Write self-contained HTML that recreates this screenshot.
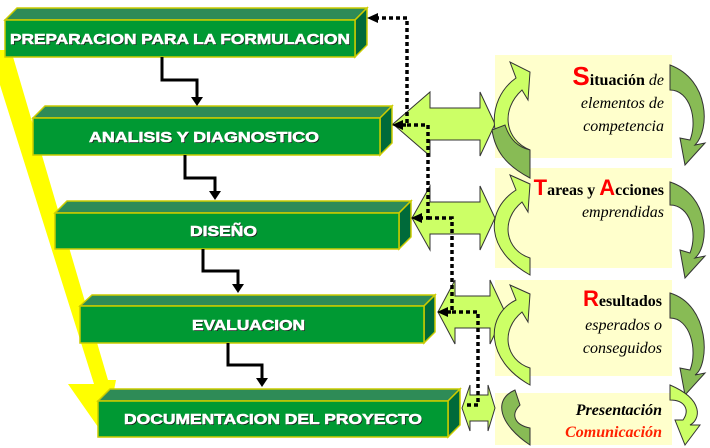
<!DOCTYPE html>
<html><head><meta charset="utf-8"><style>body{margin:0;background:#fff}svg{display:block}</style></head><body>
<svg width="710" height="448" viewBox="0 0 710 448" xmlns="http://www.w3.org/2000/svg">
<rect width="710" height="448" fill="#fff"/>
<rect x="495" y="55" width="177" height="103" fill="#ffffcc"/>
<rect x="495" y="168" width="177" height="100" fill="#ffffcc"/>
<rect x="495" y="280" width="177" height="96" fill="#ffffcc"/>
<rect x="495" y="393" width="177" height="52" fill="#ffffcc"/>
<polygon points="0,50 11,50 108,380 116,380 105,437 68,384 94,384 0,85" fill="#ffff00"/>
<g stroke="#cccc00" stroke-width="1.5">
<polygon points="5,20 17,8 367,8 355,20" fill="#2e8b57"/><polygon points="355,20 367,8 367,45 355,57" fill="#006a3a"/><rect x="5" y="20" width="350" height="37" fill="#009933"/>
<polygon points="33,118 45,106 392,106 380,118" fill="#2e8b57"/><polygon points="380,118 392,106 392,143 380,155" fill="#006a3a"/><rect x="33" y="118" width="347" height="37" fill="#009933"/>
<polygon points="55,213 67,201 411,201 399,213" fill="#2e8b57"/><polygon points="399,213 411,201 411,237 399,249" fill="#006a3a"/><rect x="55" y="213" width="344" height="36" fill="#009933"/>
<polygon points="80,306 92,295 435,295 424,306" fill="#2e8b57"/><polygon points="424,306 435,295 435,332 424,343" fill="#006a3a"/><rect x="80" y="306" width="344" height="37" fill="#009933"/>
<polygon points="98,401 110,389 460,389 448,401" fill="#2e8b57"/><polygon points="448,401 460,389 460,425 448,437" fill="#006a3a"/><rect x="98" y="401" width="350" height="36" fill="#009933"/>
</g>
<g font-family="Liberation Sans, Arial, sans-serif" font-weight="bold" font-size="15" fill="#1a1a1a" transform="translate(1,1)">
<text x="10" y="44" textLength="340" lengthAdjust="spacingAndGlyphs" font-weight="bold">PREPARACION PARA LA FORMULACION</text>
<text x="89" y="142" textLength="230" lengthAdjust="spacingAndGlyphs" font-weight="bold">ANALISIS Y DIAGNOSTICO</text>
<text x="190" y="236" textLength="67" lengthAdjust="spacingAndGlyphs" font-weight="bold">DISEÑO</text>
<text x="192" y="330" textLength="113" lengthAdjust="spacingAndGlyphs" font-weight="bold">EVALUACION</text>
<text x="124" y="424" textLength="298" lengthAdjust="spacingAndGlyphs" font-weight="bold">DOCUMENTACION DEL PROYECTO</text>
</g>
<g font-family="Liberation Sans, Arial, sans-serif" font-weight="bold" font-size="15" fill="#fff" stroke="#fff" stroke-width="0.6">
<text x="10" y="44" textLength="340" lengthAdjust="spacingAndGlyphs" font-weight="bold">PREPARACION PARA LA FORMULACION</text>
<text x="89" y="142" textLength="230" lengthAdjust="spacingAndGlyphs" font-weight="bold">ANALISIS Y DIAGNOSTICO</text>
<text x="190" y="236" textLength="67" lengthAdjust="spacingAndGlyphs" font-weight="bold">DISEÑO</text>
<text x="192" y="330" textLength="113" lengthAdjust="spacingAndGlyphs" font-weight="bold">EVALUACION</text>
<text x="124" y="424" textLength="298" lengthAdjust="spacingAndGlyphs" font-weight="bold">DOCUMENTACION DEL PROYECTO</text>
</g>
<g fill="none" stroke="#000" stroke-width="3">
<path d="M162,57 V80 H197 V100"/><path d="M185,155 V178 H215 V194"/><path d="M203,249 V271 H238 V287"/><path d="M228,343 V365 H262 V381"/>
</g>
<g fill="#000"><polygon points="191,97 203,97 197,106"/><polygon points="209,191 221,191 215,200"/><polygon points="232,284 244,284 238,293"/><polygon points="256,378 268,378 262,387"/></g>
<g fill="#ccff66" stroke="#333" stroke-width="1">
<polygon points="393,124 430,92 430,108 480,108 480,92 495,124 480,156 480,140 430,140 430,156"/>
<polygon points="412,218 430,186 430,202 480,202 480,186 495,218 480,250 480,234 430,234 430,250"/>
<polygon points="438,312 455,280 455,296 490,296 490,280 505,312 490,344 490,328 455,328 455,344"/>
<polygon points="462,408 470,385 470,395 488,395 488,385 495,408 488,431 488,421 470,421 470,431"/>
</g>
<g stroke="#333" stroke-width="1">
<path d="M530,178 C485,150 485,100 516,78 L510,62 L530,72 L528,100 L522,90 C500,110 505,140 530,150 Z" fill="#ccff66"/>
<path d="M530,178 C505,165 495,150 492,130 L505,125 C510,140 518,147 530,150 Z" fill="#88bb55"/>
<path d="M530,275 C485,250 485,210 516,190 L510,175 L530,184 L528,212 L522,202 C500,220 505,250 530,258 Z" fill="#ccff66"/>
<path d="M530,385 C485,360 485,315 516,300 L510,285 L530,294 L528,322 L522,312 C500,330 505,360 530,368 Z" fill="#ccff66"/>
<path d="M530,445 C500,425 492,400 515,390 L520,405 C510,415 515,425 530,428 Z" fill="#88bb55"/>
<path d="M670,65 C710,80 710,130 695,145 L705,143 L685,165 L680,138 L690,140 C698,120 690,90 670,90 Z" fill="#88bb55"/>
<path d="M670,182 C710,195 710,245 695,258 L705,256 L685,278 L680,250 L690,253 C698,233 690,205 670,205 Z" fill="#88bb55"/>
<path d="M670,293 C710,305 710,365 695,375 L705,373 L685,395 L680,368 L690,370 C698,350 690,318 670,318 Z" fill="#88bb55"/>
<path d="M670,385 C705,400 700,420 690,425 L700,425 L685,445 L675,420 L683,420 C690,410 685,400 670,400 Z" fill="#ccff66"/>
</g>
<g fill="none" stroke="#000" stroke-width="3.5" stroke-dasharray="4,3">
<path d="M375,18 H407 V125 H398"/><path d="M407,125 H428 V218 H418"/><path d="M428,218 H452 V312 H444"/><path d="M452,312 H478 V405 H467"/>
</g>
<g fill="#000"><polygon points="367,18 378,13 378,23"/><polygon points="392,125 403,120 403,130"/><polygon points="411,218 422,213 422,223"/><polygon points="437,312 448,307 448,317"/></g>
<g font-family="Liberation Serif, serif" font-size="16" text-anchor="end" fill="#000">
<text x="664" y="85" font-weight="bold"><tspan font-family="Liberation Sans, sans-serif" fill="#ff0000" font-size="26">S</tspan>ituación <tspan font-weight="normal" font-style="italic">de</tspan></text>
<text x="664" y="108" font-style="italic">elementos de</text>
<text x="664" y="131" font-style="italic">competencia</text>
<text x="664" y="195" font-weight="bold"><tspan font-family="Liberation Sans, sans-serif" fill="#ff0000" font-size="22">T</tspan>areas y <tspan font-family="Liberation Sans, sans-serif" fill="#ff0000" font-size="22">A</tspan>cciones</text>
<text x="664" y="217" font-style="italic">emprendidas</text>
<text x="662" y="306" font-weight="bold"><tspan font-family="Liberation Sans, sans-serif" fill="#ff0000" font-size="22">R</tspan>esultados</text>
<text x="662" y="330" font-style="italic">esperados o</text>
<text x="662" y="353" font-style="italic">conseguidos</text>
<text x="662" y="415" font-weight="bold" font-style="italic">Presentación</text>
<text x="662" y="437" font-weight="bold" font-style="italic" fill="#ff2200">Comunicación</text>
</g>
</svg>
</body></html>
